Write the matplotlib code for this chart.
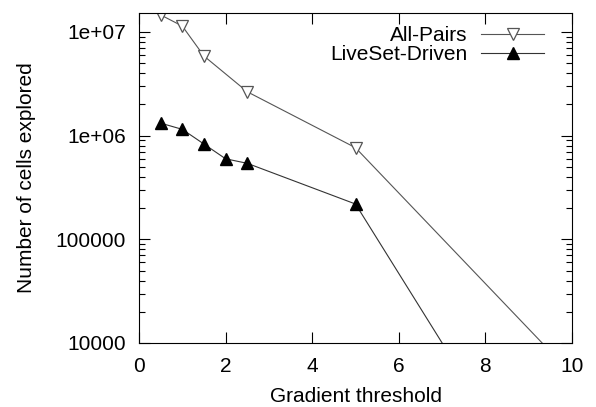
import numpy as np
import matplotlib.pyplot as plt
from matplotlib.ticker import LogLocator, FixedLocator, NullFormatter

plt.rcParams['font.family'] = ['Liberation Sans', 'DejaVu Sans']

# данные
threshold_all = [0.5, 1.0, 1.5, 2.5, 5.0, 10.0]
cells_all = [1.46e7, 1.14e7, 5.86e6, 2.65e6, 7.65e5, 5.0e3]

threshold_live = [0.5, 1.0, 1.5, 2.0, 2.5, 5.0, 10.0]
cells_live = [1.32e6, 1.15e6, 8.3e5, 5.98e5, 5.41e5, 2.19e5, 98]

y_ticks = [1e4, 1e5, 1e6, 1e7]
y_labels = ['10000', '100000', '1e+06', '1e+07']

fig = plt.figure(figsize=(5.96, 4.07), dpi=100)
ax = fig.add_axes([139 / 596, 1 - 343 / 407, 433 / 596, 330 / 407])

ax.plot(threshold_all, cells_all, color='#555555', lw=0.8, marker='v',
        ms=8, mfc='white', mec='#555555', mew=0.9, label='All-Pairs')
ax.plot(threshold_live, cells_live, color='#333333', lw=0.8, marker='^',
        ms=8, mfc='black', mec='black', label='LiveSet-Driven')

ax.set_yscale('log')
ax.set_xlim(0, 10)
ax.set_ylim(1e4, 10 ** 7.183)
ax.set_xticks([0, 2, 4, 6, 8, 10])
ax.yaxis.set_major_locator(FixedLocator(y_ticks))
ax.set_yticklabels(y_labels)
ax.yaxis.set_minor_locator(LogLocator(base=10, subs=np.arange(2, 10)))
ax.yaxis.set_minor_formatter(NullFormatter())

ax.tick_params(which='both', direction='in', top=True, right=True,
               labelsize=15, width=0.8)
ax.tick_params(axis='y', pad=9.5)
ax.tick_params(axis='x', pad=10)
ax.tick_params(which='major', length=8)
ax.tick_params(which='minor', length=4)
for s in ax.spines.values():
    s.set_linewidth(0.8)

ax.set_xlabel('Gradient threshold', fontsize=15, labelpad=8)
ax.set_ylabel('Number of cells explored', fontsize=15, labelpad=14)

leg = ax.legend(loc='upper right', markerfirst=False, frameon=False,
                fontsize=15, handlelength=3.0, handletextpad=0.67,
                labelspacing=0.0, borderaxespad=0.0, borderpad=0.0,
                bbox_to_anchor=(0.935, 0.96))
for t in leg.get_texts():
    t.set_ha('right')

fig.savefig('out.png', dpi=100)
